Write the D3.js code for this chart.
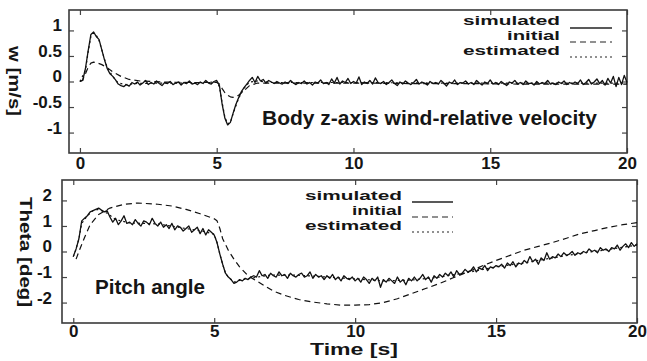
<!DOCTYPE html>
<html>
<head>
<meta charset="utf-8">
<script src="https://cdn.jsdelivr.net/npm/d3@7"></script>
<style>
  body { margin: 0; background: #fff; }
  svg { display: block; }
  text { font-family: "Liberation Sans", Arial, sans-serif; font-weight: bold; fill: #151515; }
</style>
</head>
<body>
<div id="chart"></div>
<script>
var svgWidth = 647;
var svgHeight = 361;

// ---- data ----
var xTicks = [0, 5, 10, 15, 20];
var wTicks = [-1, -0.5, 0, 0.5, 1];
var thetaTicks = [-2, -1, 0, 1, 2];
var legendNames = ["simulated", "initial", "estimated"];

// simulated signals are sampled every 0.1 s from 0 to 20 s
var simStep = 0.1;

var wSim = [
  0.00, 0.02, 0.25, 0.60, 0.92, 0.97, 0.88, 0.82, 0.62, 0.42, 0.25,
  0.15, 0.10, 0.03, -0.05, -0.08, -0.10, -0.06, -0.09, -0.02, -0.05,
  -0.01, -0.07, -0.03, 0.02, -0.06, -0.02, -0.05, 0.01, -0.04, -0.08,
  -0.02, -0.04, 0.00, -0.06, -0.03, -0.01, -0.07, -0.02, -0.04, 0.01,
  -0.05, -0.03, -0.06, -0.01, -0.04, 0.02, -0.03, -0.05, 0.00, 0.02,
  -0.08, -0.45, -0.72, -0.85, -0.80, -0.62, -0.45, -0.32, -0.20, -0.12,
  -0.05, 0.02, 0.08, -0.02, 0.10, 0.01, 0.04, -0.03, 0.02, -0.01,
  -0.04, 0.00, -0.03, -0.05, -0.01, -0.04, 0.02, -0.03, -0.06, -0.02,
  -0.04, 0.01, -0.05, -0.02, -0.07, -0.01, -0.03, 0.03, -0.04, -0.02,
  -0.06, 0.05, -0.03, 0.08, -0.05, 0.01, -0.02, 0.06, -0.04, 0.00,
  -0.03, 0.09, -0.06, -0.01, -0.04, 0.02, -0.05, 0.07, -0.02, -0.04,
  0.00, -0.06, -0.02, 0.03, -0.04, -0.08, -0.01, -0.05, 0.01, -0.03,
  -0.06, -0.02, 0.04, -0.05, -0.01, -0.03, -0.07, 0.00, -0.04, -0.02,
  -0.05, 0.02, -0.03, -0.09, -0.01, -0.04, 0.03, -0.06, -0.02, -0.03,
  0.01, -0.05, -0.02, -0.06, 0.02, -0.03, -0.07, -0.01, -0.04, 0.03,
  -0.05, -0.02, -0.06, 0.00, -0.04, -0.08, -0.01, -0.03, 0.02, -0.05,
  -0.02, -0.06, 0.01, -0.04, -0.03, -0.07, 0.00, -0.05, -0.02, -0.04,
  0.02, -0.05, -0.03, -0.06, -0.01, -0.04, 0.01, -0.06, -0.02, -0.05,
  -0.01, -0.04, 0.03, -0.06, -0.02, 0.04, -0.05, -0.01, 0.05, -0.04,
  0.02, -0.07, 0.06, -0.03, 0.10, -0.10, 0.08, -0.06, 0.12, -0.02
];

var wInitT = [0, 0.1, 0.2, 0.3, 0.4, 0.5, 0.6, 0.8, 1.0, 1.2, 1.5, 1.8, 2.2, 2.6, 3, 4, 5.0, 5.1, 5.2, 5.3, 5.4, 5.5, 5.6, 5.8, 6.0, 6.2, 6.5, 7.0, 8, 10, 12, 14, 16, 18, 20];
var wInit = [0, 0.03, 0.15, 0.28, 0.36, 0.38, 0.37, 0.33, 0.27, 0.19, 0.10, 0.04, 0.01, 0.0, -0.01, -0.02, -0.02, -0.05, -0.14, -0.22, -0.27, -0.30, -0.31, -0.27, -0.18, -0.08, -0.03, -0.03, -0.03, -0.03, -0.04, -0.04, -0.05, -0.05, -0.05];

var wEstT = [0, 0.2, 0.3, 0.4, 0.5, 0.6, 0.7, 0.8, 0.9, 1.0, 1.2, 1.4, 1.7, 2.0, 3, 4, 5.0, 5.1, 5.2, 5.3, 5.4, 5.5, 5.6, 5.8, 6.0, 6.2, 6.5, 7, 10, 13, 16, 20];
var wEst = [0, 0.22, 0.58, 0.88, 0.95, 0.90, 0.80, 0.62, 0.43, 0.27, 0.10, -0.03, -0.06, -0.04, -0.03, -0.03, -0.01, -0.10, -0.42, -0.70, -0.83, -0.80, -0.63, -0.33, -0.13, -0.01, 0.01, -0.02, -0.02, -0.03, -0.03, -0.03];

var thetaSim = [
  -0.20, 0.10, 0.50, 1.20, 1.30, 1.40, 1.55, 1.60, 1.65, 1.70, 1.62,
  1.55, 1.60, 1.35, 1.15, 1.30, 1.05, 1.20, 1.40, 1.10, 1.15,
  1.05, 1.25, 1.10, 1.00, 1.20, 1.15, 1.05, 1.30, 1.10, 1.00,
  1.15, 0.95, 1.05, 0.90, 1.10, 0.85, 1.00, 0.95, 0.80, 0.90,
  1.00, 0.75, 0.85, 0.95, 0.70, 0.90, 0.65, 0.85, 0.75, 0.65,
  0.35, -0.10, -0.50, -0.85, -1.00, -1.10, -1.25, -1.20, -1.10, -1.15,
  -1.05, -1.10, -1.00, -0.95, -1.00, -0.75, -0.95, -0.90, -1.05, -0.85,
  -0.95, -1.00, -0.80, -0.95, -0.90, -1.05, -0.85, -0.95, -1.00, -0.90,
  -0.85, -1.00, -0.95, -0.80, -1.05, -0.90, -1.00, -0.95, -1.10, -0.95,
  -1.05, -0.90, -1.10, -1.00, -1.15, -0.95, -1.05, -1.10, -1.00, -1.15,
  -1.05, -1.20, -1.00, -1.10, -1.25, -1.05, -1.15, -1.00, -1.40, -1.10,
  -1.20, -1.05, -1.15, -1.25, -1.00, -1.20, -1.10, -1.30, -1.05, -1.15,
  -1.00, -1.15, -1.05, -0.90, -1.10, -1.00, -1.20, -0.95, -1.05, -0.90,
  -1.00, -0.85, -0.95, -0.80, -1.00, -0.75, -0.90, -0.85, -0.70, -0.80,
  -0.75, -0.60, -0.80, -0.65, -0.70, -0.55, -0.75, -0.60, -0.65, -0.55,
  -0.60, -0.50, -0.65, -0.45, -0.55, -0.40, -0.60, -0.45, -0.50, -0.35,
  -0.45, -0.20, -0.40, -0.30, -0.50, -0.25, -0.35, -0.05, -0.30, -0.20,
  -0.25, -0.10, -0.20, -0.05, -0.15, -0.10, 0.00, -0.15, -0.05, -0.10,
  0.00, -0.05, 0.10, 0.00, 0.05, -0.05, 0.15, 0.05, 0.10, 0.00,
  0.15, 0.10, 0.25, 0.05, 0.20, 0.30, 0.15, 0.35, 0.20, 0.30
];

var thetaInitT = [0.1, 0.2, 0.4, 0.6, 0.9, 1.3, 1.8, 2.3, 3.0, 3.5, 4.0, 4.5, 5.0, 5.1, 5.2, 5.3, 5.5, 5.7, 5.9, 6.2, 6.5, 7.1, 7.5, 8.0, 8.5, 9.0, 9.5, 10.0, 10.5, 11.0, 11.5, 12.0, 12.5, 13.0, 13.5, 14.0, 14.5, 15.0, 15.5, 16.0, 16.5, 17.0, 17.5, 18.0, 18.5, 19.0, 19.5, 20.0];
var thetaInit = [-0.3, 0.0, 0.55, 1.05, 1.45, 1.70, 1.85, 1.90, 1.85, 1.78, 1.65, 1.48, 1.28, 1.20, 0.90, 0.50, 0.05, -0.30, -0.60, -0.95, -1.15, -1.55, -1.72, -1.88, -1.98, -2.05, -2.10, -2.10, -2.08, -2.00, -1.85, -1.65, -1.45, -1.25, -1.02, -0.80, -0.57, -0.35, -0.15, 0.05, 0.20, 0.35, 0.52, 0.70, 0.82, 0.95, 1.05, 1.13];

var thetaEstT = [0, 0.1, 0.2, 0.3, 0.5, 0.7, 0.9, 1.2, 1.5, 2, 3, 4, 4.5, 5.0, 5.1, 5.2, 5.3, 5.4, 5.5, 5.7, 6.0, 7, 8, 9, 10, 11, 12, 13, 14, 15, 16, 17, 18, 19, 20];
var thetaEst = [-0.2, 0.1, 0.5, 1.1, 1.4, 1.6, 1.65, 1.5, 1.25, 1.12, 1.08, 0.9, 0.82, 0.68, 0.35, -0.1, -0.5, -0.85, -1.0, -1.2, -1.1, -0.92, -0.93, -1.0, -1.07, -1.15, -1.12, -1.0, -0.82, -0.6, -0.45, -0.25, -0.07, 0.08, 0.25];

// helper: zip times and values into points
function pairs(ts, vs) {
  return vs.map((v, i) => ({t: ts[i], v: v}));
}
function sampled(vs) {
  return vs.map((v, i) => ({t: i * simStep, v: v}));
}

var lineStyles = [
  {dash: null, width: 1.3},
  {dash: "6,4", width: 1.2},
  {dash: "2,3", width: 1.2}
];

// Create an SVG wrapper
var svg = d3.select("#chart")
  .append("svg")
  .attr("width", svgWidth)
  .attr("height", svgHeight);

// one panel = frame, inward ticks on all sides, three series, legend
function drawPanel(p) {
  var x = d3.scaleLinear().domain([-0.4, 20]).range([p.left, p.right]);
  var y = d3.scaleLinear().domain(p.yDomain).range([p.bottom, p.top]);

  var g = svg.append("g");

  // mirrored ticks, no labels
  g.append("g")
    .attr("transform", `translate(0, ${p.top})`)
    .call(d3.axisTop(x).tickValues(xTicks).tickSizeInner(-5).tickSizeOuter(0).tickFormat(""));
  g.append("g")
    .attr("transform", `translate(${p.right}, 0)`)
    .call(d3.axisRight(y).tickValues(p.yTicks).tickSizeInner(-5).tickSizeOuter(0).tickFormat(""));

  // labelled axes
  var xAxis = g.append("g")
    .attr("transform", `translate(0, ${p.bottom})`)
    .call(d3.axisBottom(x).tickValues(xTicks).tickSizeInner(-5).tickSizeOuter(0)
      .tickPadding(p.xPad).tickFormat(d => String(d)));
  var yAxis = g.append("g")
    .attr("transform", `translate(${p.left}, 0)`)
    .call(d3.axisLeft(y).tickValues(p.yTicks).tickSizeInner(-5).tickSizeOuter(0)
      .tickPadding(p.yPad).tickFormat(d => String(d)));

  g.selectAll(".domain").remove();
  g.selectAll(".tick line").attr("stroke", "#444").attr("stroke-width", 1.2);
  g.selectAll(".tick text")
    .style("font-size", "17px")
    .attr("fill", "#151515");
  yAxis.selectAll(".tick text").attr("y", -5);

  // frame
  g.append("rect")
    .attr("x", p.left)
    .attr("y", p.top)
    .attr("width", p.right - p.left)
    .attr("height", p.bottom - p.top)
    .attr("fill", "none")
    .attr("stroke", "#3a3a3a")
    .attr("stroke-width", 1.6);

  var line = d3.line()
    .x(d => x(d.t))
    .y(d => y(d.v));

  // draw estimated first, then initial, then simulated on top
  [2, 1, 0].forEach(function(k) {
    g.append("path")
      .datum(p.series[k])
      .attr("d", line)
      .attr("fill", "none")
      .attr("stroke", "#111")
      .attr("stroke-width", lineStyles[k].width)
      .attr("stroke-dasharray", lineStyles[k].dash)
      .attr("stroke-linejoin", "round");
  });

  // legend
  legendNames.forEach(function(name, i) {
    g.append("text")
      .attr("x", p.legend.right - p.legend.lengths[i])
      .attr("y", p.legend.baselines[i])
      .attr("textLength", p.legend.lengths[i])
      .attr("lengthAdjust", "spacingAndGlyphs")
      .style("font-size", "13px")
      .text(name);
    g.append("line")
      .attr("x1", p.legend.x1)
      .attr("x2", p.legend.x2)
      .attr("y1", p.legend.lines[i])
      .attr("y2", p.legend.lines[i])
      .attr("stroke", "#222")
      .attr("stroke-width", lineStyles[i].width)
      .attr("stroke-dasharray", lineStyles[i].dash);
  });

  // y axis title, reads top to bottom
  g.append("text")
    .attr("transform", `translate(${p.yTitle.x}, ${p.yTitle.y}) rotate(90)`)
    .attr("text-anchor", "middle")
    .attr("dy", "0.35em")
    .attr("textLength", p.yTitle.len)
    .attr("lengthAdjust", "spacingAndGlyphs")
    .style("font-size", "17px")
    .text(p.yTitle.text);

  // caption inside the panel
  g.append("text")
    .attr("x", p.caption.x)
    .attr("y", p.caption.y)
    .attr("textLength", p.caption.len)
    .attr("lengthAdjust", "spacingAndGlyphs")
    .style("font-size", p.caption.size + "px")
    .text(p.caption.text);
}

drawPanel({
  left: 69, right: 627, top: 10, bottom: 153,
  yDomain: [-1.4, 1.4], yTicks: wTicks, xPad: 4, yPad: 7,
  series: [sampled(wSim), pairs(wInitT, wInit), pairs(wEstT, wEst)],
  legend: {right: 560, lengths: [97, 53, 97], baselines: [25, 40, 55], x1: 570, x2: 612, lines: [28, 42, 57]},
  yTitle: {x: 15, y: 81, len: 70, text: "w [m/s]"},
  caption: {x: 262, y: 125, len: 335, size: 21, text: "Body z-axis wind-relative velocity"}
});

drawPanel({
  left: 62, right: 637, top: 180, bottom: 323,
  yDomain: [-2.8, 2.8], yTicks: thetaTicks, xPad: 2, yPad: 10,
  series: [sampled(thetaSim), pairs(thetaInitT, thetaInit), pairs(thetaEstT, thetaEst)],
  legend: {right: 402, lengths: [97, 50, 97], baselines: [200, 215, 230], x1: 412, x2: 453, lines: [202, 217, 232]},
  yTitle: {x: 26, y: 252, len: 110, text: "Theta [deg]"},
  caption: {x: 95, y: 294, len: 110, size: 20, text: "Pitch angle"}
});

// shared x axis title
svg.append("text")
  .attr("x", 354)
  .attr("y", 355)
  .attr("text-anchor", "middle")
  .attr("textLength", 88)
  .attr("lengthAdjust", "spacingAndGlyphs")
  .style("font-size", "17px")
  .text("Time [s]");
</script>
</body>
</html>
